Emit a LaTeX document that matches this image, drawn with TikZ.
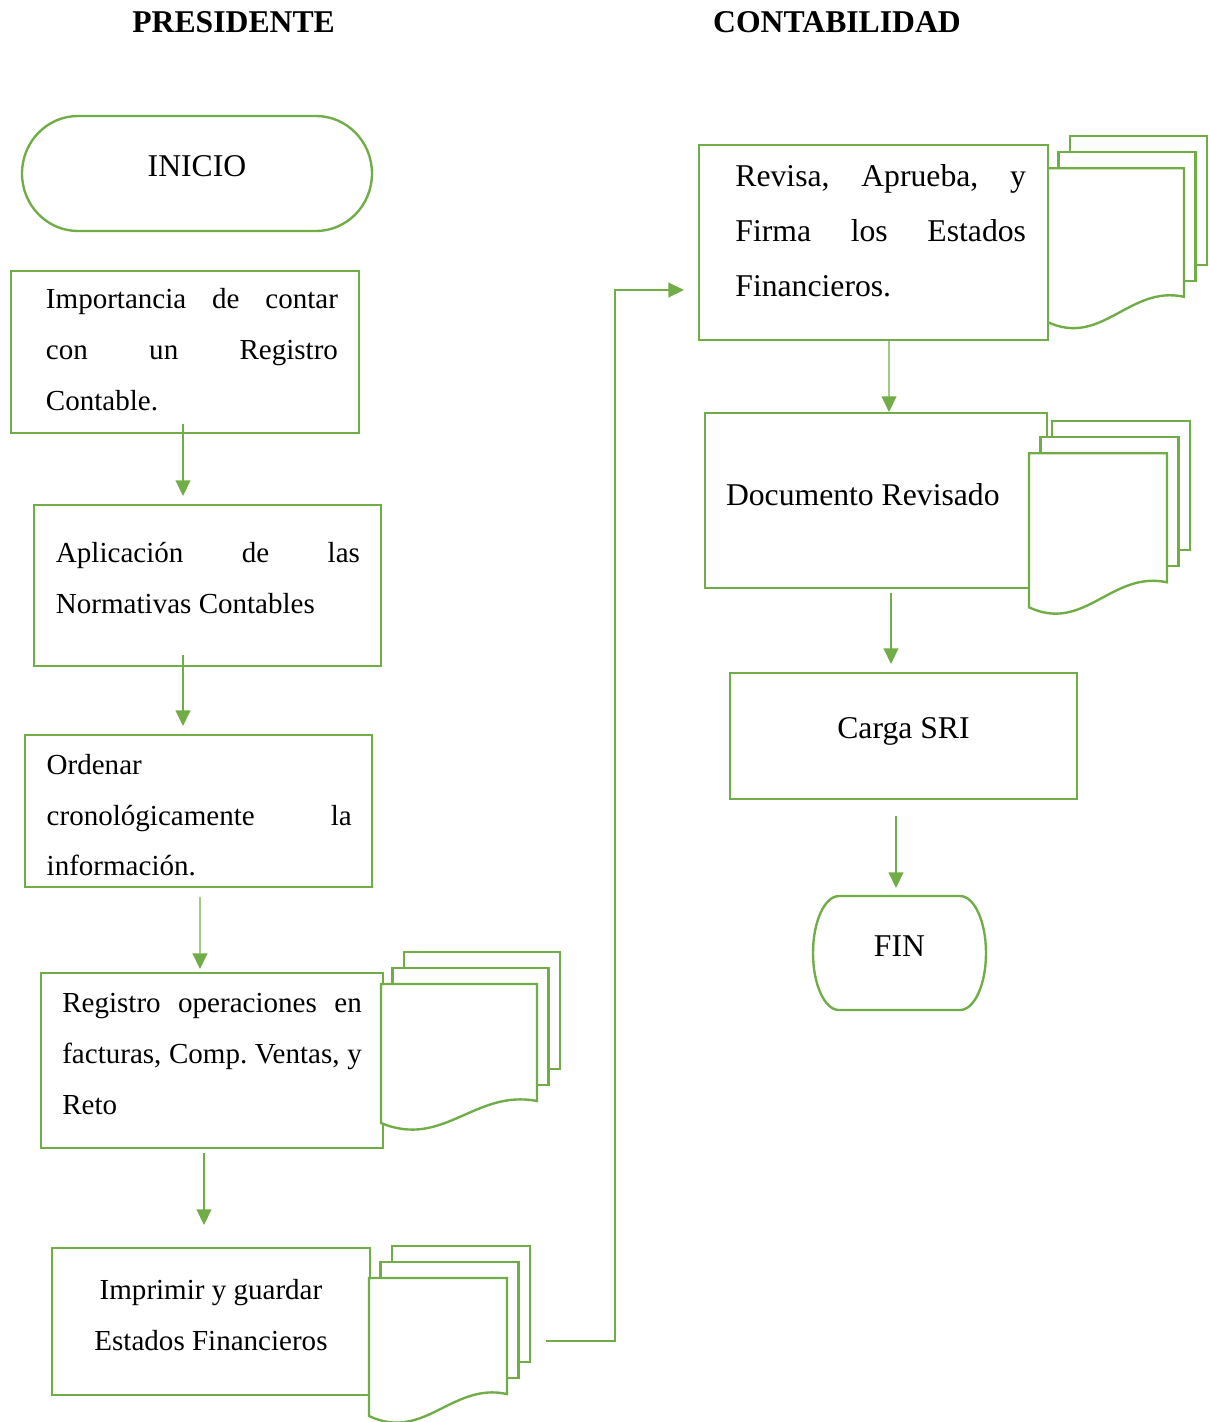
\documentclass[tikz,border=0pt]{standalone}
\usepackage{fontspec}
\setmainfont{Liberation Serif}
\usetikzlibrary{arrows.meta,calc}
\definecolor{verde}{HTML}{70AD47}
\newlength{\pix}
\setlength{\pix}{0.3788pt}
\newcommand{\esp}{\spaceskip=0pt\xspaceskip=0pt\relax}
\newcommand{\alto}[1]{\rule{0pt}{#1\pix}}
\newcommand{\bajo}[1]{\rule[-#1\pix]{0pt}{0pt}}
\newcommand{\just}[2]{\makebox[#1\pix][s]{#2}}

\begin{document}
\begin{tikzpicture}[x=0.3788pt, y=-0.3788pt,
    linea/.style = {draw=verde, line width=0.9pt},
    caja/.style = {linea, fill=white, rectangle, inner sep=0pt, outer sep=0pt, align=left, font=\fontsize{11}{19.2}\selectfont},
    grande/.style = {font=\fontsize{12}{20.8}\selectfont},
    term/.style = {inner sep=0pt, outer sep=0pt, align=center, font=\fontsize{12}{20.8}\selectfont},
    titulo/.style = {anchor=base, font=\fontsize{12}{14.4}\selectfont\bfseries},
    flecha/.style = {draw=verde, line width=0.45pt, -{Triangle[length=5.9pt, width=5.6pt]}},
    pics/pila/.style n args={3}{code={
        \draw[linea, fill=white] (23,-32) rectangle (23+#1,#2-32);
        \draw[linea, fill=white] (11.5,-16) rectangle (11.5+#1,#2-16);
        \draw[linea, fill=white] (0,0) -- (#1,0) -- (#1,#2)
            .. controls (0.6*#1,#2-12) and (0.4*#1,#2+#3+26) .. (0,#2+#3) -- cycle;
    }}]
\useasboundingbox (0,0) rectangle (1210,1422);

% titulos
\node[titulo] (P) at (233.6,32.3) {PRESIDENTE};
\node[titulo] (C) at (837,32.3) {CONTABILIDAD};

% presidente
\node[term, minimum width=350\pix, minimum height=115\pix] (1) at (197,173.5) {INICIO\alto{26}\bajo{19.6}};
\draw[linea] ([shift={(56,0)}]1.north west) -- ([shift={(-56,0)}]1.north east)
    arc[start angle=-90, end angle=90, x radius=56, y radius=57.5]
    -- ([shift={(56,0)}]1.south west)
    arc[start angle=90, end angle=270, x radius=56, y radius=57.5] -- cycle;

\node[caja, text width=348\pix, minimum height=162\pix] (2) at (185,352)
    {\esp\hspace*{35\pix}\just{292}{Importancia de contar}\alto{24}\\
     \hspace*{35\pix}\just{292}{con un Registro}\\
     \hspace*{35\pix}Contable.\bajo{9.3}};
\node[caja, text width=347\pix, minimum height=161\pix] (3) at (207.5,585.5)
    {\esp\hspace*{22\pix}\just{304}{Aplicación de las}\alto{24}\\
     \hspace*{22\pix}Normativas Contables\bajo{19.5}};
\node[caja, text width=347\pix, minimum height=152\pix] (4) at (198.5,811)
    {\esp\hspace*{21.7\pix}Ordenar\alto{32}\\
     \hspace*{21.7\pix}\just{305}{cronológicamente la}\\
     \hspace*{21.7\pix}información.\bajo{4}};
\node[caja, text width=342\pix, minimum height=175\pix] (5) at (212,1060.5)
    {\esp\hspace*{21.3\pix}\just{299.5}{Registro operaciones en}\alto{24}\\
     \hspace*{21.3\pix}\just{299.5}{facturas, Comp.\ Ventas, y}\\
     \hspace*{21.3\pix}Reto\bajo{17.7}};
\pic at (381,984) {pila={156}{117}{22}};
\node[caja, align=flush center, text width=318\pix, minimum height=147\pix] (6) at (211,1321.5)
    {\esp Imprimir y guardar\alto{24}\\
     Estados Financieros\bajo{17.7}};
\pic at (369,1278) {pila={138}{116}{22}};

% contabilidad
\pic at (1047,168.3) {pila={137}{128.5}{25}};
\node[caja, grande, text width=349\pix, minimum height=195\pix] (7) at (873.5,242.5)
    {\esp\hspace*{36.4\pix}\just{290.6}{Revisa, Aprueba, y}\alto{26}\\
     \hspace*{36.4\pix}\just{290.6}{Firma los Estados}\\
     \hspace*{36.4\pix}Financieros.\bajo{27.6}};
\node[caja, grande, text width=342\pix, minimum height=175\pix] (8) at (876,500.5)
    {\esp\hspace*{21\pix}Documento Revisado\alto{26}\bajo{17}};
\pic at (1029,453.3) {pila={138}{129}{25}};
\node[caja, grande, align=flush center, text width=347\pix, minimum height=126\pix] (9) at (903.5,736)
    {\esp Carga SRI\alto{26}\bajo{22}};
\node[term, minimum width=173\pix, minimum height=114\pix] (10) at (899.5,953) {FIN\alto{26}\bajo{20}};
\draw[linea] ([shift={(26,0)}]10.north west) -- ([shift={(-26,0)}]10.north east)
    arc[start angle=-90, end angle=90, x radius=26, y radius=57]
    -- ([shift={(26,0)}]10.south west)
    arc[start angle=90, end angle=270, x radius=26, y radius=57] -- cycle;

% flechas
\draw[flecha] ($(2.south)+(-2,-9)$) -- ($(3.north)+(-24.5,-9)$);
\draw[flecha] ($(3.south)+(-24.5,-11)$) -- ($(4.north)+(-15.5,-9)$);
\draw[flecha] ($(4.south)+(1.5,10)$) -- ($(5.north)+(-12,-4)$);
\draw[flecha] ($(5.south)+(-8,5)$) -- ($(6.north)+(-7,-23)$);
\draw[flecha] ($(6.east)+(176,19.5)$) -- ++(69,0) |- ($(7.west)+(-15,47.5)$);
\draw[flecha] ($(7.south)+(15.5,0)$) -- ($(8.north)+(13,-1)$);
\draw[flecha] ($(8.south)+(15,5)$) -- ($(9.north)+(-12.5,-9)$);
\draw[flecha] ($(9.south)+(-7.5,17)$) -- ($(10.north)+(-3.5,-8)$);
\end{tikzpicture}
\end{document}
